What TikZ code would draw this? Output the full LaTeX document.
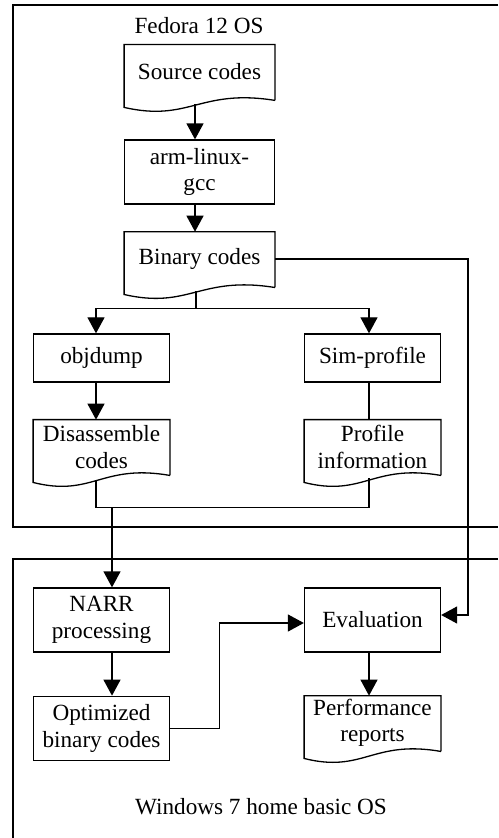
\documentclass[tikz,border=0pt]{standalone}
\usepackage{fontspec}
\setmainfont{Liberation Serif}
\usetikzlibrary{arrows.meta,positioning}

\tikzset{
  link/.style={line width=0.65pt},
  flow/.style={link,-{Triangle[length=8pt,width=8.5pt]}},
  procbox/.style={draw,line width=0.65pt,minimum width=75pt,minimum height=32pt,align=center,inner sep=1pt},
  sidebox/.style={procbox,minimum width=68pt,minimum height=24pt},
  docbox/.style={minimum width=75pt,minimum height=27pt,align=center,inner sep=1pt},
  sidedoc/.style={docbox,minimum width=68pt},
}

\begin{document}
\begin{tikzpicture}[x=0.5pt,y=-0.5pt,font=\fontsize{11.6}{13.2}\selectfont]
  \useasboundingbox (0,0) rectangle (498,838);
  % the two machines
  \draw[link] (498,5) -- (13,5) -- (13,527) -- (498,527);
  \draw[link] (498,559) -- (13,559) -- (13,838);
  \node (fedora) at (199,26) {Fedora 12 OS};
  \node (windows) at (261,807) {Windows 7 home basic OS};

  % Fedora side
  \node[docbox] (src) at (199.5,72) {Source codes};
  \node[procbox,below=20pt of src] (gcc) {arm-linux-\\gcc};
  \node[docbox,below=13.5pt of gcc] (bin) {Binary codes};
  \node[sidebox] (objdump) at (101.5,358) {objdump};
  \node[sidebox] (sim) at (372.5,358) {Sim-profile};
  \node[sidedoc,below=18.5pt of objdump] (dis) {Disassemble\\codes};
  \node[sidedoc,below=18.5pt of sim] (prof) {Profile\\information};

  % Windows side
  \node[sidebox,minimum height=32pt] (narr) at (101.5,620) {NARR\\processing};
  \node[sidebox,minimum height=32pt,below=21.5pt of narr] (opt) {Optimized\\binary codes};
  \node[sidebox,minimum height=32pt] (eval) at (372.5,620) {Evaluation};
  \node[sidedoc,below=21.5pt of eval] (perf) {Performance\\reports};

  % document outlines with wavy bottom
  \foreach \nd/\nw in {src/150,bin/150,dis/136,prof/136,perf/136}
    \draw[link] ([shift={(0,1)}]\nd.south east) -- (\nd.north east) -- (\nd.north west)
      -- ([shift={(0,8)}]\nd.south west)
      .. controls ([shift={(0.437*\nw,23)}]\nd.south west) and ([shift={(0.503*\nw,-11)}]\nd.south west)
      .. ([shift={(0,1)}]\nd.south east);

  % connectors
  \draw[flow] ([shift={(-4.5,5)}]src.south) -- ([xshift=-2.25pt]gcc.north);
  \draw[flow] ([xshift=-2.25pt]gcc.south) -- ([xshift=-2.25pt]bin.north);
  \draw[link] ([shift={(-3.5,5)}]bin.south) -- ++(0,17) coordinate (split);
  \draw[flow] (split) -| ([xshift=-2.75pt]objdump.north);
  \draw[flow] (split) -| ([xshift=-1.75pt]sim.north);
  \draw[flow] ([xshift=-2.75pt]objdump.south) -- ([xshift=-2.75pt]dis.north);
  \draw[link] ([xshift=-1.75pt]sim.south) -- ([xshift=-1.75pt]prof.north);
  \draw[link] ([shift={(-5.5,7)}]dis.south) -- ++(0,26) coordinate (merge) -| ([shift={(-3.5,4)}]prof.south);
  \coordinate (narrin) at ([xshift=5.25pt]narr.north);
  \draw[flow] (narrin |- merge) -- (narrin);
  \draw[flow] ([xshift=5.25pt]narr.south) -- ([xshift=5.25pt]opt.north);
  \draw[flow] (opt.east) -- ++(49,0) |- ([yshift=-1.5pt]eval.west);
  \draw[flow] (bin.east) -- ++(193,0) |- ([yshift=2.5pt]eval.east);
  \draw[flow] ([xshift=-1.75pt]eval.south) -- ([xshift=-1.75pt]perf.north);
\end{tikzpicture}
\end{document}
